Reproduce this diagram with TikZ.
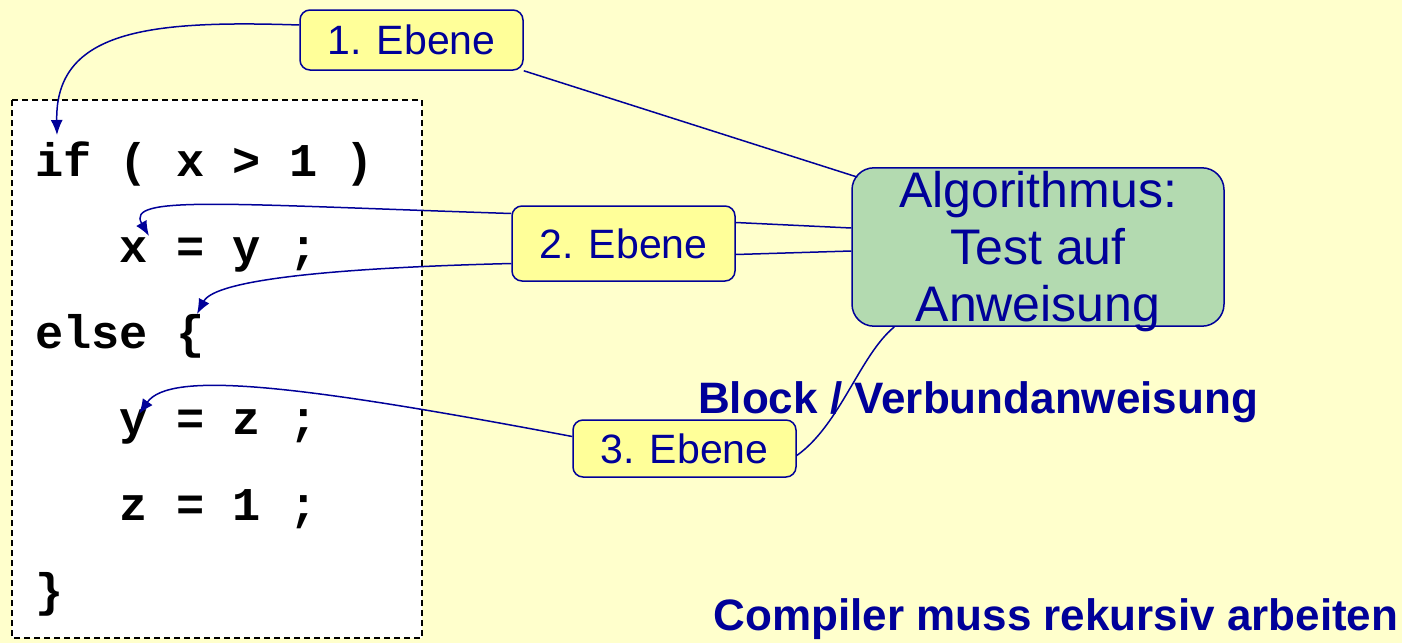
\documentclass[tikz,border=0pt]{standalone}
\usepackage{fontspec}
\setmainfont{Liberation Sans}
\setmonofont{Liberation Mono}
\usetikzlibrary{arrows.meta}

\definecolor{bgyellow}{RGB}{255,255,204}
\definecolor{boxyellow}{RGB}{255,255,153}
\definecolor{algogreen}{RGB}{179,218,176}
\definecolor{navy}{RGB}{0,0,153}

\tikzset{
  level/.style={draw=navy, line width=1.5pt, fill=boxyellow, rounded corners=10pt,
    text=navy, font=\fontsize{41}{48}\selectfont, minimum width=223pt, inner sep=0pt},
  algo/.style={draw=navy, line width=1.5pt, fill=algogreen, rounded corners=22pt,
    text=navy, font=\fontsize{50}{57}\selectfont, align=center,
    minimum width=372pt, minimum height=158pt, inner xsep=0pt, inner ysep=-6pt},
  code/.style={anchor=base west, inner sep=0pt, font=\ttfamily\bfseries\fontsize{47}{58}\selectfont},
  remark/.style={text=navy, inner sep=0pt, anchor=base, font=\bfseries\fontsize{44}{50}\selectfont},
  link/.style={draw=navy, line width=1.5pt},
  pointer/.style={link, -{Latex[length=15pt,width=12pt]}}
}

\begin{document}
\begin{tikzpicture}[x=1pt,y=-1pt]

  \fill[bgyellow] (0,0) rectangle (1402,643);
  \useasboundingbox (0,0) rectangle (1402,643);

  \path[draw=black, fill=white, line width=1.5pt, dash pattern=on 6pt off 4pt]
    (12,100) rectangle (422,638);

  \begin{scope}[every node/.style={code}]
    \node (cif)   at (35,176) {if ( x > 1 )};
    \node (cx)    at (35,262) {\ \ \ x = y ;};
    \node (celse) at (35,348) {else \{};
    \node (cy)    at (35,434) {\ \ \ y = z ;};
    \node (cz)    at (35,520) {\ \ \ z = 1 ;};
    \node (cend)  at (35,606) {\}};
  \end{scope}

  \coordinate (tif)   at (57,135);
  \coordinate (tx)    at (149,236);
  \coordinate (telse) at (197,314);
  \coordinate (ty)    at (139,414);

  \node[level, minimum height=60pt] (b1) at (411.5,40)  {1. Ebene};
  \node[level, minimum height=75pt] (b2) at (623.5,243.5) {2. Ebene};
  \node[level, minimum height=57pt] (b3) at (684.5,448.5) {3. Ebene};

  \node[algo] (alg) at (1038,247) {\rule{0pt}{46pt}Algorithmus:\\Test auf\\Anweisung};

  \node[remark] (block) at (978,413) {Block / Verbundanweisung};
  \node[remark] (rek)   at (1056,630) {Compiler muss rekursiv arbeiten};

  \path[pointer] ([yshift=15pt]b1.west) .. controls (150,20) and (55,30) .. (tif);
  \path[link] (b1.south east) -- ([xshift=6pt,yshift=-10pt]alg.north west);

  \path[link] ([yshift=21pt]b2.east) -- ([yshift=19pt]alg.west);
  \path[link] ([yshift=-11pt]b2.east) -- ([yshift=-4pt]alg.west);

  \path[pointer] ([yshift=30pt]b2.west) .. controls (220,204) and (125,195) .. (tx);
  \path[pointer] ([yshift=-20pt]b2.west) .. controls (330,268) and (215,280) .. (telse);

  \path[pointer] ([yshift=12pt]b3.west) .. controls (300,385) and (170,370) .. (ty);
  \path[link] ([yshift=-7pt]b3.east) .. controls (840,425) and (860,355) .. ([xshift=43pt]alg.south west);

\end{tikzpicture}
\end{document}
